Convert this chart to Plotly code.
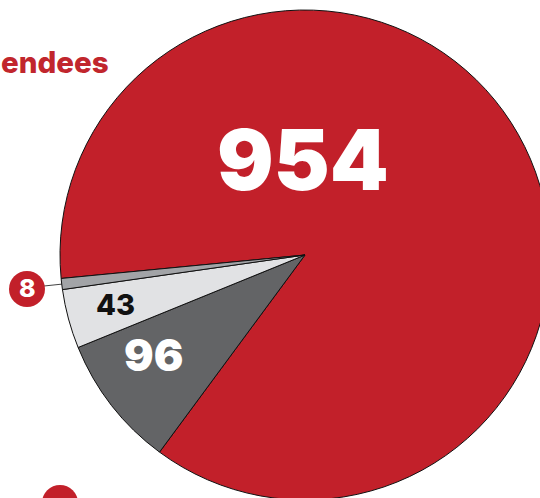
import plotly.graph_objects as go

# ---- data ----
categories = ["Group A", "Group B", "Group C", "Group D"]
values = [954, 96, 43, 8]
slice_colors = ["#C2202A", "#636466", "#E1E2E4", "#A2A4A7"]
title_text = "endees"

# ---- figure geometry (pixels) ----
W, H = 550, 500
ML, MR, MT, MB = 60, 0, 10, 0
PW, PH = W - ML - MR, H - MT - MB


def px(x):
    return (x - ML) / PW


def py(y):
    return (H - MB - y) / PH


fig = go.Figure(
    go.Pie(
        labels=categories,
        values=values,
        sort=False,
        direction="clockwise",
        rotation=-95.5,
        marker=dict(colors=slice_colors, line=dict(color="#111111", width=1)),
        textinfo="none",
        hoverinfo="label+value",
        showlegend=False,
    )
)

FONT = "Inter"
ann = []
# big value labels
ann.append(dict(x=px(303), y=py(159), text=str(values[0]),
                font=dict(family=FONT, size=84, color="white", weight=900)))
ann.append(dict(x=px(153), y=py(355), text=str(values[1]),
                font=dict(family=FONT, size=44, color="white", weight=900)))
ann.append(dict(x=px(115.5), y=py(304), text=str(values[2]),
                font=dict(family=FONT, size=29, color="#111111", weight=800)))
ann.append(dict(x=px(27), y=py(288), text=str(values[3]),
                font=dict(family=FONT, size=25, color="white", weight=800)))
for a in ann:
    a.update(xref="paper", yref="paper", showarrow=False,
             xanchor="center", yanchor="middle")

# title (cut off at left edge)
ann.append(dict(x=px(-1), y=py(62), xref="paper", yref="paper", showarrow=False,
                xanchor="left", yanchor="middle", text=title_text,
                font=dict(family=FONT, size=29.5, color="#C1262D", weight=800)))

shapes = [
    # leader line for small slice
    dict(type="line", xref="paper", yref="paper",
         x0=px(44), y0=py(286), x1=px(63), y1=py(284),
         line=dict(color="#444444", width=1), layer="below"),
    # badge circle for "8"
    dict(type="circle", xref="paper", yref="paper",
         x0=px(9), x1=px(45), y0=py(271), y1=py(307),
         fillcolor="#C2202A", line=dict(width=0), layer="below"),
    # partially visible badge at bottom
    dict(type="circle", xref="paper", yref="paper",
         x0=px(42), x1=px(78), y0=py(485), y1=py(521),
         fillcolor="#C2202A", line=dict(width=0), layer="below"),
]

fig.update_layout(
    width=W, height=H, autosize=False,
    margin=dict(l=ML, r=MR, t=MT, b=MB, pad=0),
    paper_bgcolor="white", plot_bgcolor="white",
    annotations=ann, shapes=shapes,
)

fig.write_html(
    "out.html",
    config={"displayModeBar": False},
    post_script="document.body.style.margin='0';document.body.style.overflow='hidden';"
                "document.documentElement.style.overflow='hidden';",
)
